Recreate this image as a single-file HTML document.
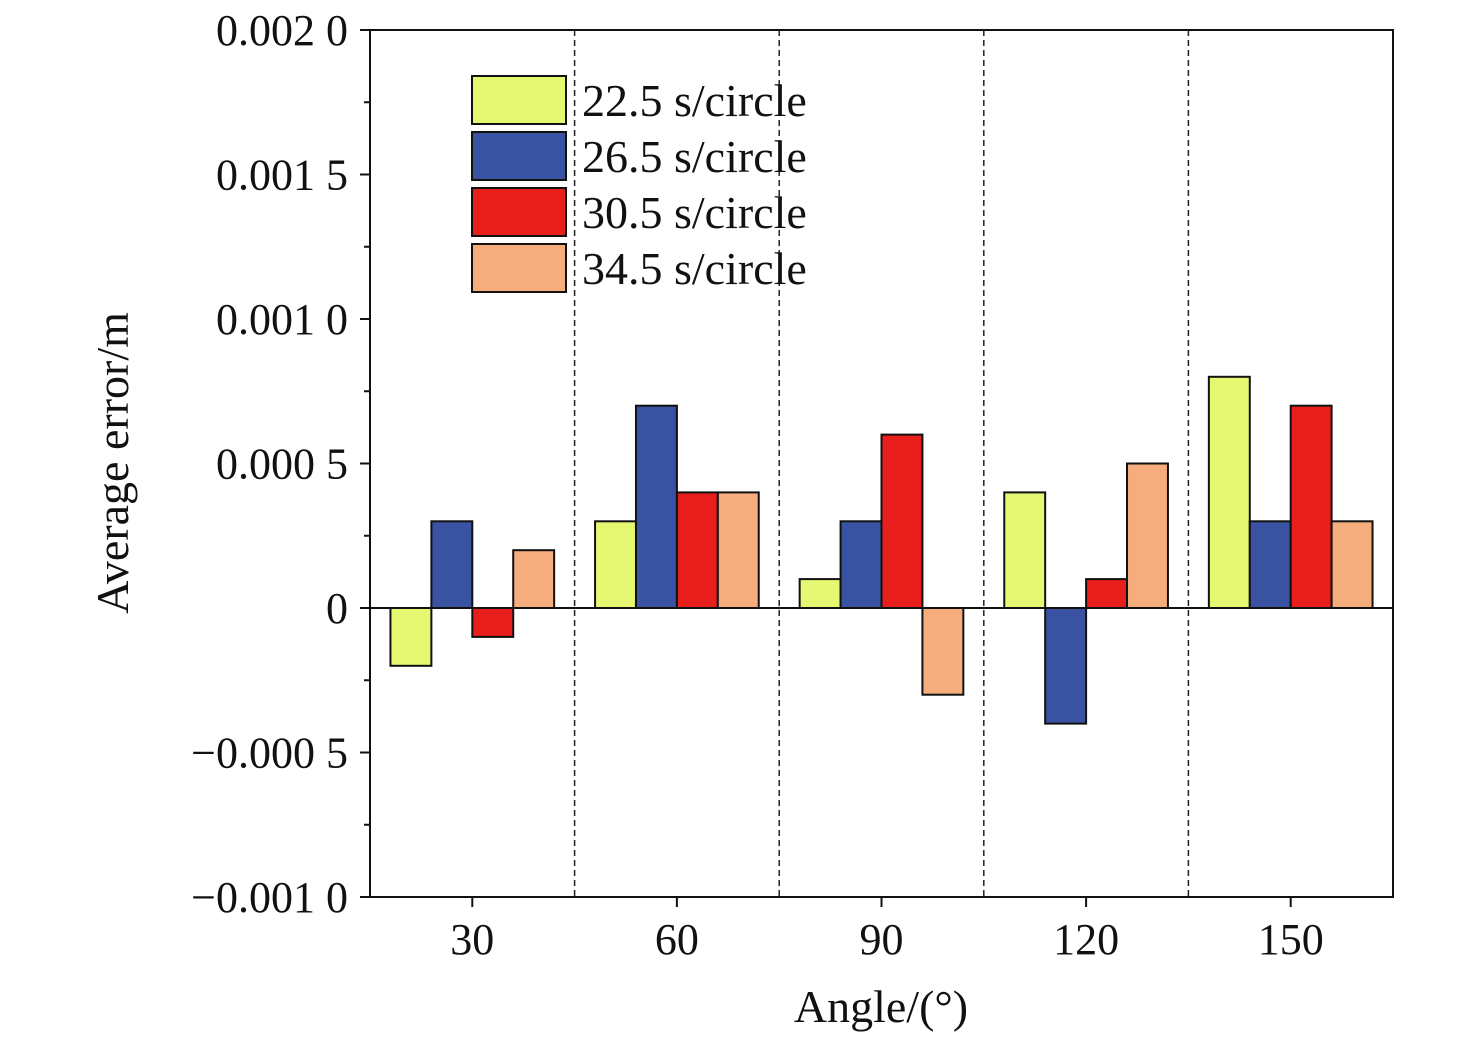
<!DOCTYPE html>
<html><head><meta charset="utf-8"><style>
body{margin:0;background:#fff}
svg text{font-family:"Liberation Serif",serif;fill:#111}
</style></head><body>
<svg id="chart" width="1476" height="1040" xmlns="http://www.w3.org/2000/svg"></svg>
<script>
const categories=[30,60,90,120,150];
const seriesNames=["22.5 s/circle","26.5 s/circle","30.5 s/circle","34.5 s/circle"];
const s1=[-0.0002,0.0003,0.0001,0.0004,0.0008];
const s2=[0.0003,0.0007,0.0003,-0.0004,0.0003];
const s3=[-0.0001,0.0004,0.0006,0.0001,0.0007];
const s4=[0.0002,0.0004,-0.0003,0.0005,0.0003];
const yTicks=[-0.001,-0.0005,0,0.0005,0.001,0.0015,0.002];
const yTickLabels=["\u22120.001 0","\u22120.000 5","0","0.000 5","0.001 0","0.001 5","0.002 0"];
const colors=["#e6f872","#3a52a2","#e81e1c","#f5ad7e"];
const series=[s1,s2,s3,s4];
const L=370,R=1393,T=30,B=897;
const xMin=15,xMax=165,yMin=-0.001,yMax=0.002;
const X=v=>L+(v-xMin)/(xMax-xMin)*(R-L);
const Y=v=>B-(v-yMin)/(yMax-yMin)*(B-T);
const svg=document.getElementById('chart');
const NS="http://www.w3.org/2000/svg";
function add(tag,attrs,parent){const e=document.createElementNS(NS,tag);for(const k in attrs)e.setAttribute(k,attrs[k]);(parent||svg).appendChild(e);return e;}
// dashed separators
for(let i=0;i<categories.length-1;i++){const xv=(categories[i]+categories[i+1])/2;
const l=add('line',{x1:X(xv),x2:X(xv),y1:T,y2:B,stroke:'#222','stroke-width':1.5,'stroke-dasharray':'6,4'});
}
// bars
const bw=(X(categories[1])-X(categories[0]))*0.8/4;
series.forEach((s,si)=>{s.forEach((v,ci)=>{
const x0=X(categories[ci])-2*bw+si*bw;const y0=Math.min(Y(v),Y(0));const h=Math.abs(Y(v)-Y(0));
const r=add('rect',{x:x0,y:y0,width:bw,height:h,fill:colors[si],stroke:'#111','stroke-width':2});
});});
// zero line
const z=add('line',{x1:L,x2:R,y1:Y(0),y2:Y(0),stroke:'#111','stroke-width':2});

// frame
const f=add('rect',{x:L,y:T,width:R-L,height:B-T,fill:'none',stroke:'#111','stroke-width':2});

// y ticks
yTicks.forEach((v,i)=>{add('line',{x1:L-10,x2:L,y1:Y(v),y2:Y(v),stroke:'#111','stroke-width':2});
const t=add('text',{x:L-22,y:Y(v)+15,'text-anchor':'end','font-size':44});t.textContent=yTickLabels[i];

if(i<yTicks.length-1){const m=(v+yTicks[i+1])/2;add('line',{x1:L-6,x2:L,y1:Y(m),y2:Y(m),stroke:'#111','stroke-width':2});}});
// x ticks
categories.forEach(c=>{add('line',{x1:X(c),x2:X(c),y1:B,y2:B+10,stroke:'#111','stroke-width':2});
const t=add('text',{x:X(c),y:B+57,'text-anchor':'middle','font-size':44});t.textContent=c;
});
// axis titles
const xt=add('text',{x:881,y:1022,'text-anchor':'middle','font-size':46});xt.textContent='Angle/(°)';

const yt=add('text',{x:0,y:0,'text-anchor':'middle','font-size':46,transform:'translate(128,463) rotate(-90)'});yt.textContent='Average error/m';

// legend
seriesNames.forEach((n,i)=>{const y=76+i*56;
const g=add('g',{});
add('rect',{x:472,y:y,width:94,height:48,fill:colors[i],stroke:'#111','stroke-width':2},g);
const t=add('text',{x:582,y:y+40,'font-size':46},g);t.textContent=n;});
</script>
</body></html>
